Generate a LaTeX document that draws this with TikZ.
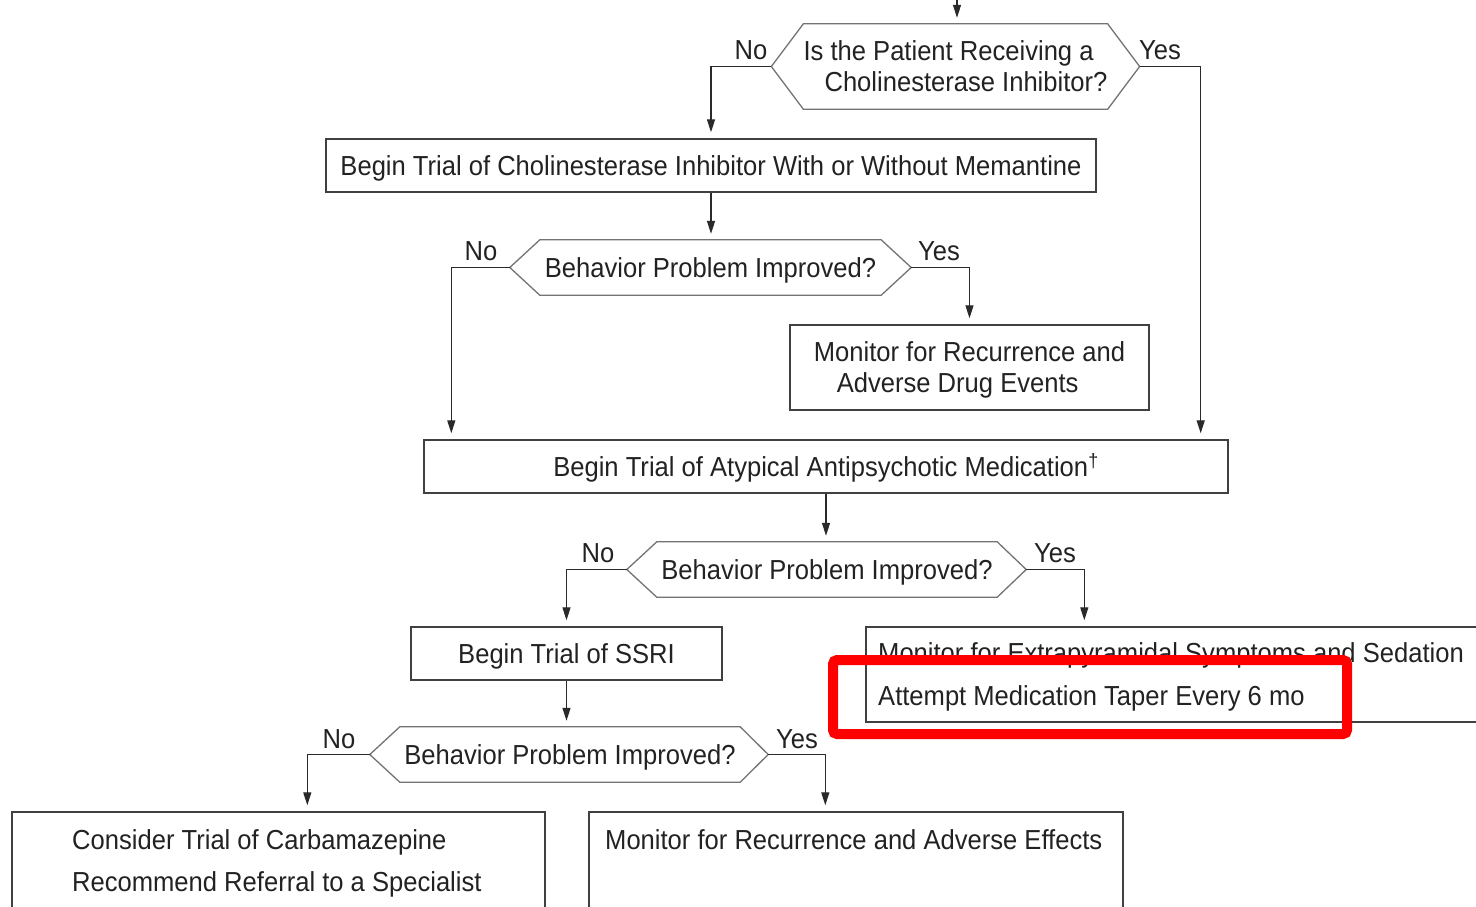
\documentclass[tikz,border=0pt]{standalone}
\usepackage{fontspec}
\setmainfont{Liberation Sans}[FakeStretch=0.93]
\usetikzlibrary{arrows.meta,calc}
\definecolor{ink}{HTML}{222222}
\definecolor{boxline}{HTML}{404040}
\definecolor{hexline}{HTML}{737373}
\definecolor{flow}{HTML}{2A2A2A}
\definecolor{alert}{HTML}{FF0000}

\begin{document}
\begin{tikzpicture}[x=1pt,y=-1pt,
  every node/.style={font=\fontsize{27.5}{31}\selectfont, text=ink},
  stepbox/.style={draw=boxline, line width=1.4pt, inner sep=0pt, align=center},
  decision/.style={inner sep=0pt},
  oneline/.style={text height=19.7pt, text depth=0pt},
  hexedge/.style={draw=hexline, line width=1.3pt, line join=miter},
  flowline/.style={draw=flow, line width=1.3pt, -{Triangle[length=13pt,width=8pt]}, shorten >=6pt},
  answer/.style={inner sep=0pt},
  note/.style={inner sep=0pt, anchor=base west},
]
\fill[white] (0,0) rectangle (1476,906);
\useasboundingbox (0,0) rectangle (1476,906);
\clip (0,0) rectangle (1476,906);

% ---------- decision 1 ----------
\node[decision, minimum width=301pt, minimum height=85pt, align=left] (q1) at (955.5,66.5)
  {Is the Patient Receiving a\\\hspace*{21pt}Cholinesterase Inhibitor?};
\draw[hexedge] (q1.north west) -- (q1.north east) -- ($(q1.east)+(32,0)$) coordinate (q1r)
  -- (q1.south east) -- (q1.south west) -- ($(q1.west)-(32,0)$) coordinate (q1l) -- cycle;
\node[answer] (q1no)  at (751,50)  {No};
\node[answer] (q1yes) at (1160,50) {Yes};

% ---------- step boxes ----------
\node[stepbox, oneline, minimum width=770pt, minimum height=53pt] (ache) at (711,165.5)
  {Begin Trial of Cholinesterase Inhibitor With or Without Memantine};

% ---------- decision 2 ----------
\node[decision, oneline, minimum width=341pt, minimum height=55pt] (q2) at (710.5,267.5)
  {Behavior Problem Improved?};
\draw[hexedge] (q2.north west) -- (q2.north east) -- ($(q2.east)+(30,0)$) coordinate (q2r)
  -- (q2.south east) -- (q2.south west) -- ($(q2.west)-(30,0)$) coordinate (q2l) -- cycle;
\node[answer] (q2no)  at (481,251) {No};
\node[answer] (q2yes) at (939,251) {Yes};

\node[stepbox, minimum width=359pt, minimum height=85pt] (mon) at (969.5,367.5) {};
\node[inner sep=0pt, align=left] (montext) at (969.5,370)
  {Monitor for Recurrence and\\\hspace*{23pt}Adverse Drug Events};

\node[stepbox, oneline, minimum width=804pt, minimum height=53pt] (atyp) at (826,466.5)
  {Begin Trial of Atypical Antipsychotic Medication\textsuperscript{†}};

% ---------- decision 3 ----------
\node[decision, oneline, minimum width=340pt, minimum height=55pt] (q3) at (827,569.5)
  {Behavior Problem Improved?};
\draw[hexedge] (q3.north west) -- (q3.north east) -- ($(q3.east)+(29,0)$) coordinate (q3r)
  -- (q3.south east) -- (q3.south west) -- ($(q3.west)-(30,0)$) coordinate (q3l) -- cycle;
\node[answer] (q3no)  at (598,553)  {No};
\node[answer] (q3yes) at (1055,553) {Yes};

\node[stepbox, oneline, minimum width=311pt, minimum height=53pt] (ssri) at (566.5,653.5)
  {Begin Trial of SSRI};

\node[stepbox, minimum width=640pt, minimum height=95pt] (eps) at (1186,674.5) {};
\node[note] (eps1) at (878,662) {Monitor for Extrapyramidal Symptoms and Sedation};
\node[note] (eps2) at (878,705) {Attempt Medication Taper Every 6 mo};

% ---------- decision 4 ----------
\node[decision, oneline, minimum width=340pt, minimum height=55pt] (q4) at (570,754.5)
  {Behavior Problem Improved?};
\draw[hexedge] (q4.north west) -- (q4.north east) -- ($(q4.east)+(28,0)$) coordinate (q4r)
  -- (q4.south east) -- (q4.south west) -- ($(q4.west)-(30,0)$) coordinate (q4l) -- cycle;
\node[answer] (q4no)  at (339,739) {No};
\node[answer] (q4yes) at (797,739) {Yes};

\node[stepbox, minimum width=533pt, minimum height=113pt] (carb) at (278.5,868.5) {};
\node[note] (carb1) at (72,849) {Consider Trial of Carbamazepine};
\node[note] (carb2) at (72,891) {Recommend Referral to a Specialist};

\node[stepbox, minimum width=534pt, minimum height=113pt] (recur) at (856,868.5) {};
\node[note] (recur1) at (605,849) {Monitor for Recurrence and Adverse Effects};

% ---------- connectors ----------
\coordinate (entry) at (957,-10);
\draw[flowline] (entry) -- (entry |- q1.north);
\draw[flowline] (q1l) -| (ache.north);
\draw[flowline] (q1r) -| ($(atyp.north east)+(-28,0)$);
\draw[flowline] (ache.south) -- (ache.south |- q2.north);
\draw[flowline] (q2l) -| ($(atyp.north west)+(28,0)$);
\draw[flowline] (q2r) -| (mon.north);
\draw[flowline] (atyp.south) -- (atyp.south |- q3.north);
\draw[flowline] (q3l) -| (ssri.north);
\draw[flowline] (q3r) -| ($(eps.north west)+(219,0)$);
\draw[flowline] (ssri.south) -- (ssri.south |- q4.north);
\draw[flowline] (q4l) -| ($(carb.north west)+(296,0)$);
\draw[flowline] (q4r) -| ($(recur.north west)+(237,0)$);

% ---------- highlight ----------
\draw[alert, line width=10pt, rounded corners=4pt] (833,660) rectangle (1347,734);
\end{tikzpicture}
\end{document}
